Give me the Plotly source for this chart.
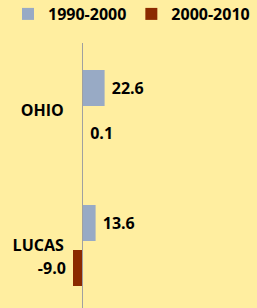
import plotly.graph_objects as go

categories = ["OHIO", "LUCAS"]
series_names = ["1990-2000", "2000-2010"]
values_1990_2000 = [22.6, 13.6]
values_2000_2010 = [0.1, -9.0]

colors = ["#98AAC5", "#8B2A00"]
BG = "#FFEEA0"
NB = "\u00a0"


def labels(vals):
    return [f"{NB}{v:.1f}" if v >= 0 else f"{v:.1f}{NB}" for v in vals]


W, H = 257, 308
top = 43
axis_x = 82

fig = go.Figure()
for name, vals, col in zip(series_names, [values_1990_2000, values_2000_2010], colors):
    fig.add_trace(go.Bar(
        y=categories, x=vals, name=name, orientation="h",
        marker=dict(color=col, line=dict(width=0)),
        text=labels(vals), textposition="outside",
        textfont=dict(family="Open Sans", size=16, color="#000000", weight="bold"),
        cliponaxis=False,
    ))

font = dict(family="Open Sans", size=16, color="#000000", weight="bold")
fig.update_layout(
    width=W, height=H,
    margin=dict(l=0, r=0, t=top, b=0, pad=0, autoexpand=False),
    paper_bgcolor=BG, plot_bgcolor=BG,
    barmode="group", bargap=0.333, bargroupgap=0.2,
    font=font,
    showlegend=True,
    legend=dict(orientation="h", x=8 / W, xanchor="left", y=1 + (top - 14) / (H - top), yanchor="middle",
                font=font, bgcolor="rgba(0,0,0,0)", traceorder="normal"),
    xaxis=dict(range=[-axis_x, W - axis_x], visible=False, showgrid=False, zeroline=False),
    yaxis=dict(autorange=False, range=[1.463, -0.5], anchor="free", position=axis_x / W,
               showline=True, linecolor="#A0A0A0", linewidth=1, showgrid=False, zeroline=False,
               ticks="", ticklabelstandoff=15, tickfont=font),
)
fig.write_html(
    "out.html",
    config={"displayModeBar": False},
    post_script=f"document.body.style.margin='0';document.body.style.overflow='hidden';document.body.style.background='{BG}';",
)
